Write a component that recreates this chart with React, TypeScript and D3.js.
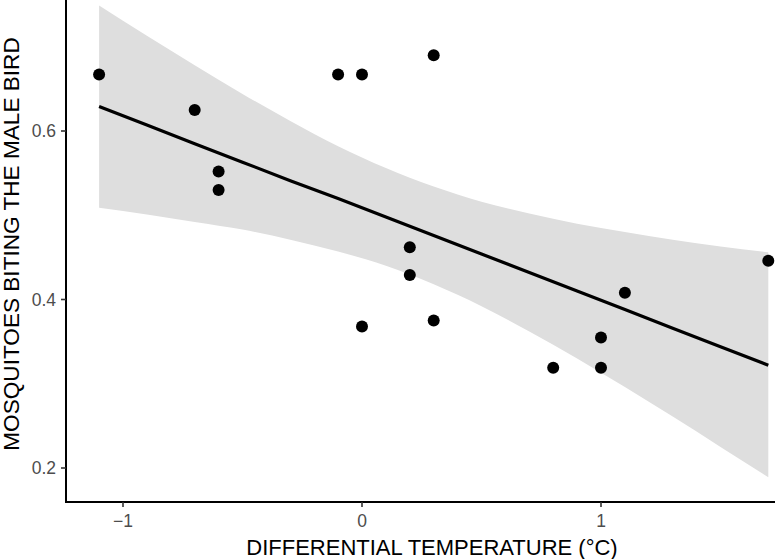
import { useEffect } from "react";
import { scaleLinear, line as d3line, area as d3area, curveMonotoneX } from "d3";

// observed points
const tempDiff = [-1.1, -0.7, -0.6, -0.6, -0.1, 0, 0.3, 0.2, 0.2, 0, 0.3, 0.8, 1.0, 1.0, 1.1, 1.7];
const maleBites = [0.667, 0.625, 0.552, 0.53, 0.667, 0.667, 0.69, 0.462, 0.429, 0.368, 0.375, 0.319, 0.355, 0.319, 0.408, 0.446];

// fitted line + confidence band
const bandX = [-1.1, -0.9, -0.7, -0.5, -0.3, -0.1, 0.1, 0.3, 0.5, 0.7, 0.9, 1.1, 1.3, 1.5, 1.7];
const bandFit = [0.629, 0.607, 0.585, 0.563, 0.541, 0.52, 0.498, 0.476, 0.454, 0.432, 0.41, 0.388, 0.366, 0.344, 0.322];
const bandUpper = [0.749, 0.713, 0.678, 0.644, 0.612, 0.582, 0.556, 0.534, 0.516, 0.502, 0.49, 0.48, 0.471, 0.463, 0.456];
const bandLower = [0.509, 0.501, 0.492, 0.483, 0.471, 0.457, 0.44, 0.418, 0.392, 0.362, 0.33, 0.296, 0.261, 0.225, 0.189];

const xTicks = [-1, 0, 1];
const yTicks = [0.2, 0.4, 0.6];

const xTitle = "DIFFERENTIAL TEMPERATURE (°C)";
const yTitle = "MOSQUITOES BITING THE MALE BIRD";

const W = 775;
const H = 559;
const panelLeft = 66;
const panelBottom = 502;

export default function App() {
  useEffect(() => {
    document.body.style.margin = "0";
  }, []);

  const x = scaleLinear().domain([-1, 1]).range([123, 601]);
  const y = scaleLinear().domain([0.2, 0.6]).range([468, 131]);

  const band = bandX.map((bx, i) => ({ x: bx, lo: bandLower[i], hi: bandUpper[i], fit: bandFit[i] }));

  const areaPath = d3area<(typeof band)[number]>()
    .x((d) => x(d.x))
    .y0((d) => y(d.lo))
    .y1((d) => y(d.hi))
    .curve(curveMonotoneX)(band) ?? undefined;

  const fitPath = d3line<(typeof band)[number]>()
    .x((d) => x(d.x))
    .y((d) => y(d.fit))(band) ?? undefined;

  const font = "Liberation Sans, Arial, Helvetica, sans-serif";

  return (
    <svg width={W} height={H} style={{ display: "block", background: "#fff" }} fontFamily={font}>
      {/* confidence band */}
      <path d={areaPath} fill="#dedede" />

      {/* regression line */}
      <path d={fitPath} fill="none" stroke="#000" strokeWidth={3.2} />

      {/* points */}
      {tempDiff.map((t, i) => (
        <circle key={i} cx={x(t)} cy={y(maleBites[i])} r={6} fill="#000" />
      ))}

      {/* axes */}
      <line x1={panelLeft} y1={0} x2={panelLeft} y2={panelBottom + 1} stroke="#000" strokeWidth={2} />
      <line x1={panelLeft - 1} y1={panelBottom} x2={W} y2={panelBottom} stroke="#000" strokeWidth={2} />

      {/* y ticks */}
      {yTicks.map((t) => (
        <g key={t}>
          <line x1={panelLeft - 5} x2={panelLeft} y1={y(t)} y2={y(t)} stroke="#333" strokeWidth={1.6} />
          <text x={panelLeft - 10} y={y(t)} dy="0.36em" textAnchor="end" fontSize={17.5} fill="#4d4d4d">
            {t.toFixed(1)}
          </text>
        </g>
      ))}

      {/* x ticks */}
      {xTicks.map((t) => (
        <g key={t}>
          <line x1={x(t)} x2={x(t)} y1={panelBottom} y2={panelBottom + 5} stroke="#333" strokeWidth={1.6} />
          <text x={x(t)} y={527} textAnchor="middle" fontSize={17.5} fill="#4d4d4d">
            {t < 0 ? `\u2212${Math.abs(t)}` : t}
          </text>
        </g>
      ))}

      {/* titles */}
      <text x={432} y={555} textAnchor="middle" fontSize={22} fill="#000">
        {xTitle}
      </text>
      <text transform="translate(19,244) rotate(-90)" textAnchor="middle" fontSize={22.6} fill="#000">
        {yTitle}
      </text>
    </svg>
  );
}
